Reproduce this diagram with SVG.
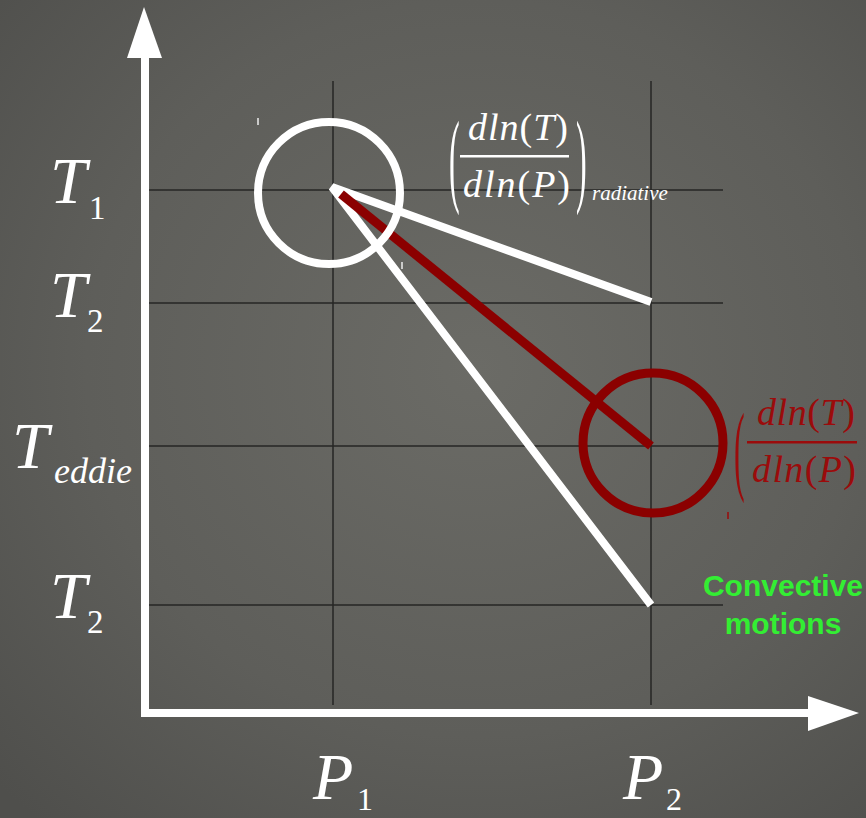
<svg xmlns="http://www.w3.org/2000/svg" width="866" height="818" viewBox="0 0 866 818">
<defs>
<radialGradient id="bg" cx="0.55" cy="0.45" r="0.75">
<stop offset="0" stop-color="#6b6b66"/>
<stop offset="0.6" stop-color="#5e5e5a"/>
<stop offset="1" stop-color="#4f4f4c"/>
</radialGradient>
<style>
.grid{stroke:#262624;stroke-width:1.5;fill:none}
.axis{stroke:#fff;stroke-width:8;fill:none}
.lab{font-family:"Liberation Serif","Times New Roman",serif;font-style:italic;fill:#fff}
.up{font-style:normal}
.red{fill:#9b0b0b}
.green{font-family:"Liberation Sans",Arial,sans-serif;font-weight:bold;font-size:30px;fill:#33ee33;text-anchor:middle}
</style>
</defs>
<rect width="866" height="818" fill="url(#bg)"/>
<g id="grid">
<line class="grid" x1="149" y1="190" x2="723" y2="190"/>
<line class="grid" x1="149" y1="303" x2="723" y2="303"/>
<line class="grid" x1="149" y1="446" x2="723" y2="446"/>
<line class="grid" x1="149" y1="605" x2="723" y2="605"/>
<line class="grid" x1="333" y1="81" x2="333" y2="705"/>
<line class="grid" x1="651" y1="81" x2="651" y2="705"/>
</g>
<g id="axes">
<line class="axis" x1="145" y1="56" x2="145" y2="717"/>
<polygon points="127,58 162,58 144,7" fill="#fff"/>
<line class="axis" x1="141" y1="713" x2="810" y2="713"/>
<polygon points="808,696 808,731 859,713" fill="#fff"/>
</g>
<g id="connectors">
<polyline points="651,302 332,187 651,605" fill="none" stroke="#fff" stroke-width="8" stroke-linejoin="bevel"/>
<line x1="341" y1="194" x2="651" y2="446" stroke="#8b0000" stroke-width="9"/>
</g>
<g id="circle-radiative">
<circle cx="329" cy="193" r="71" fill="none" stroke="#fff" stroke-width="8"/>
</g>
<g id="circle-eddie">
<circle cx="653" cy="443" r="70" fill="none" stroke="#8b0000" stroke-width="9"/>
</g>
<g id="marks" stroke-width="1.5">
<line x1="258" y1="118" x2="258" y2="125" stroke="#eee"/>
<line x1="402" y1="262" x2="402" y2="269" stroke="#eee"/>
<line x1="728" y1="512" x2="728" y2="519" stroke="#9b0b0b"/>
</g>
<g id="y-labels" class="lab">
<text x="50" y="203" font-size="66">T</text><text x="89" y="219" font-size="33" class="up">1</text>
<text x="50" y="317" font-size="66">T</text><text x="87" y="332" font-size="33" class="up">2</text>
<text x="12" y="468" font-size="66">T</text><text x="54" y="483" font-size="36">eddie</text>
<text x="50" y="618" font-size="66">T</text><text x="87" y="633" font-size="33" class="up">2</text>
</g>
<g id="x-labels" class="lab">
<text x="313" y="799" font-size="66">P</text><text x="357" y="810" font-size="32" class="up">1</text>
<text x="623" y="799" font-size="66">P</text><text x="666" y="810" font-size="32" class="up">2</text>
</g>
<g id="formula-radiative" class="lab">
<text x="0" y="0" font-size="40" class="up" transform="translate(449,193) scale(0.8,2.6)">(</text>
<text x="468" y="140" font-size="38" textLength="100" lengthAdjust="spacing">dln<tspan class="up">(</tspan>T<tspan class="up">)</tspan></text>
<rect x="460" y="155" width="109" height="2.5" fill="#fff"/>
<text x="463" y="197" font-size="38" textLength="107" lengthAdjust="spacing">dln<tspan class="up">(</tspan>P<tspan class="up">)</tspan></text>
<text x="0" y="0" font-size="40" class="up" transform="translate(576,193) scale(0.8,2.6)">)</text>
<text x="592" y="200" font-size="21">radiative</text>
</g>
<g id="formula-eddie" class="lab red">
<text x="0" y="0" font-size="40" class="up" transform="translate(734,482) scale(0.8,2.5)">(</text>
<text x="757" y="425" font-size="38" textLength="98" lengthAdjust="spacing">dln<tspan class="up">(</tspan>T<tspan class="up">)</tspan></text>
<rect x="747" y="441" width="110" height="2.5" fill="#9b0b0b"/>
<text x="752" y="482" font-size="38" textLength="104" lengthAdjust="spacing">dln<tspan class="up">(</tspan>P<tspan class="up">)</tspan></text>
</g>
<g id="convective">
<text class="green" x="783" y="596">Convective</text>
<text class="green" x="783" y="634">motions</text>
</g>
</svg>
